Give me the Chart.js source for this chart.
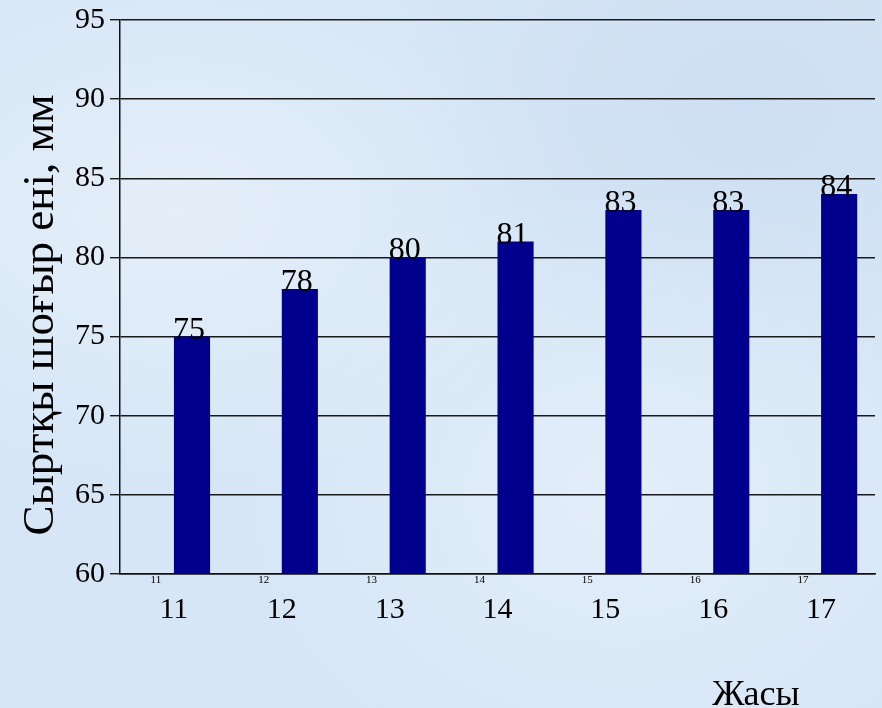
<!DOCTYPE html>
<html>
<head>
<meta charset="utf-8">
<script src="https://cdn.jsdelivr.net/npm/chart.js@4/dist/chart.umd.min.js"></script>
<style>
  html, body { margin: 0; padding: 0; }
  body {
    width: 882px; height: 708px; overflow: hidden;
    background: #d6e6f6;
    background-image:
      radial-gradient(ellipse at 20% 30%, rgba(255,255,255,0.35), rgba(255,255,255,0) 40%),
      radial-gradient(ellipse at 70% 70%, rgba(255,255,255,0.30), rgba(255,255,255,0) 45%),
      radial-gradient(ellipse at 85% 15%, rgba(190,210,235,0.35), rgba(190,210,235,0) 35%);
  }
  #wrap { position: relative; width: 882px; height: 708px; }
</style>
</head>
<body>
<div id="wrap"><canvas id="c" width="882" height="708"></canvas></div>
<script>
// ---- data ----
const categories = ['11', '12', '13', '14', '15', '16', '17'];
const seriesAgeValues = [0, 0, 0, 0, 0, 0, 0];          // empty first series (labelled with category)
const seriesWidthValues = [75, 78, 80, 81, 83, 83, 84];  // Сыртқы шоғыр ені, мм
const yMin = 60, yMax = 95, yStep = 5;
const yTitle = 'Сыртқы шоғыр ені, мм';
const xTitle = 'Жасы';

const SERIF = '"Liberation Serif", "Times New Roman", serif';

const textPlugin = {
  id: 'texts',
  afterDatasetsDraw(chart) {
    const ctx = chart.ctx;
    const area = chart.chartArea;
    ctx.save();
    // values above bars
    const meta1 = chart.getDatasetMeta(1);
    ctx.fillStyle = '#000';
    ctx.font = '32px ' + SERIF;
    ctx.textAlign = 'center';
    ctx.textBaseline = 'alphabetic';
    meta1.data.forEach((el, i) => {
      ctx.fillText(String(seriesWidthValues[i]), el.x - 3, el.y + 2);
    });
    // tiny labels of empty series
    const meta0 = chart.getDatasetMeta(0);
    ctx.font = '11px ' + SERIF;
    ctx.textBaseline = 'top';
    meta0.data.forEach((el, i) => {
      ctx.fillText(categories[i], el.x, area.bottom + 1);
    });
    ctx.restore();
  },
  afterDraw(chart) {
    const ctx = chart.ctx;
    ctx.save();
    ctx.fillStyle = '#000';
    // y title
    ctx.font = '45px ' + SERIF;
    ctx.translate(53, 315);
    ctx.rotate(-Math.PI / 2);
    ctx.textAlign = 'center';
    ctx.textBaseline = 'alphabetic';
    ctx.fillText(yTitle, 0, 0);
    ctx.restore();
    ctx.save();
    ctx.fillStyle = '#000';
    ctx.font = '36px ' + SERIF;
    ctx.textAlign = 'center';
    ctx.textBaseline = 'alphabetic';
    ctx.fillText(xTitle, 756, 705);
    ctx.restore();
  }
};

new Chart(document.getElementById('c'), {
  type: 'bar',
  data: {
    labels: categories,
    datasets: [
      { label: 'age', data: seriesAgeValues, backgroundColor: 'rgba(0,0,0,0)', borderWidth: 0 },
      { label: yTitle, data: seriesWidthValues, backgroundColor: '#00008c', borderWidth: 0 }
    ]
  },
  options: {
    responsive: false,
    animation: false,
    devicePixelRatio: 1,
    layout: { padding: { top: 19, right: 7, left: 0, bottom: 0 } },
    plugins: { legend: { display: false }, tooltip: { enabled: false } },
    datasets: { bar: { categoryPercentage: 0.67, barPercentage: 1.0 } },
    scales: {
      x: {
        grid: { display: false, drawTicks: false },
        border: { display: true, color: '#111', width: 1.5 },
        ticks: { color: '#000', font: { family: SERIF, size: 30 }, padding: 18, maxRotation: 0 },
        afterFit(scale) { scale.height = 134; }
      },
      y: {
        min: yMin, max: yMax,
        grid: { color: '#1a1a1a', lineWidth: 1.4, tickLength: 10 },
        border: { display: true, color: '#111', width: 1.5 },
        ticks: { stepSize: yStep, color: '#000', font: { family: SERIF, size: 30, lineHeight: 1 }, padding: 5 },
        afterFit(scale) { scale.width = 120; }
      }
    }
  },
  plugins: [textPlugin]
});
</script>
</body>
</html>
